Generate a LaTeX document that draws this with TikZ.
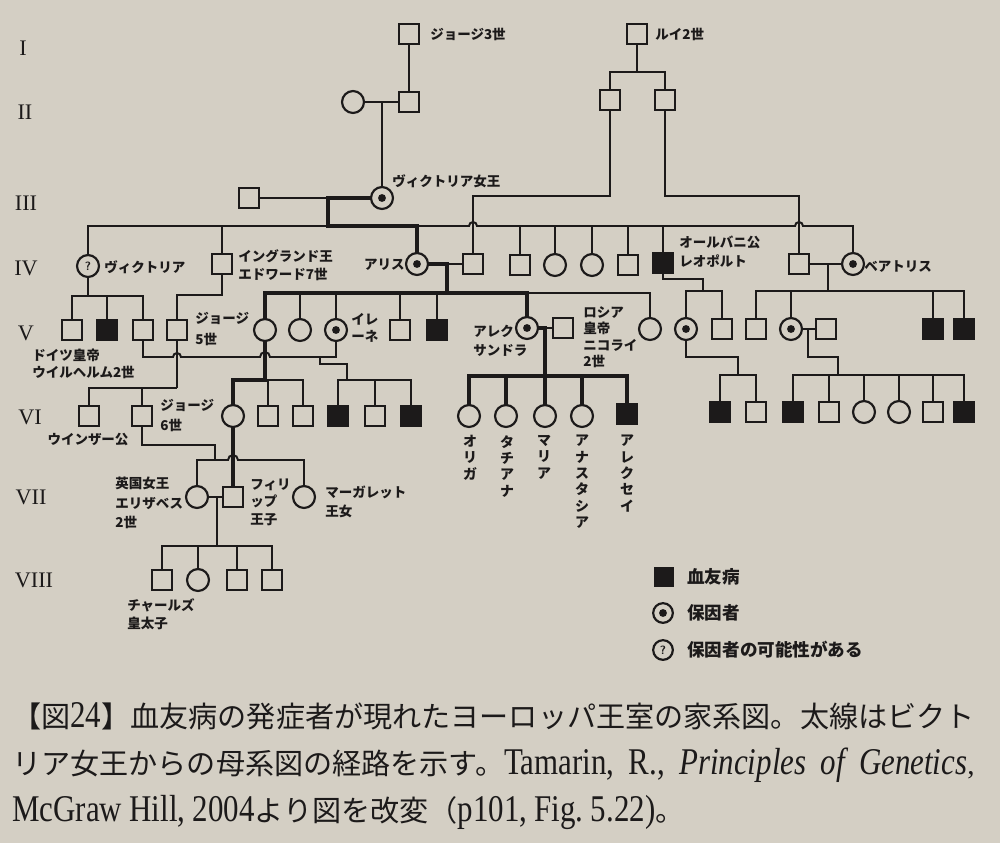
\documentclass[tikz,border=0pt]{standalone}
\usepackage{fontspec}
\setmainfont{Liberation Serif}
\newfontfamily\jp{Noto Sans CJK JP}
\usetikzlibrary{calc}
\definecolor{paper}{RGB}{212,207,196}
\definecolor{ink}{RGB}{28,26,26}
\pgfdeclarelayer{paperl}
\pgfdeclarelayer{lines}
\pgfsetlayers{paperl,lines,main}
\newcommand\lf[1]{\jp\bfseries\fontsize{9.6}{#1}\selectfont}
\newcommand\tl[1]{\scalebox{1}[1.22]{\rmfamily\fontsize{22}{24}\selectfont #1}}
\tikzset{
  ln/.style={draw=ink, line width=1.4pt, line join=miter},
  thk/.style={draw=ink, line width=3.5pt, line join=miter, line cap=rect},
  sym/.style={draw=ink, line width=1.55pt, fill=paper, inner sep=0pt, outer sep=0pt},
  sq/.style={sym, rectangle, minimum size=14.4pt},
  ci/.style={sym, circle, minimum size=15.6pt},
  aff/.style={sq, fill=ink},
  car/.style={ci, path picture={\fill[ink] (path picture bounding box.center) circle (2.8pt);}},
  posc/.style={ci, text=ink, font=\sffamily\bfseries\fontsize{8.5}{8.5}\selectfont},
  lbl/.style={inner sep=0pt, anchor=west, align=left, text=ink, font={\lf{13.5}}},
  vt/.style={inner sep=0pt, anchor=north, align=center, text=ink, font={\jp\bfseries\fontsize{9.9}{11.6}\selectfont}},
  gen/.style={inner sep=0pt, text=ink, font=\fontsize{15.8}{16}\selectfont},
  captxt/.style={inner sep=0pt, anchor=west, text=ink, font=\fontsize{20.7}{24}\selectfont},
  lgt/.style={inner sep=0pt, anchor=west, text=ink, font=\jp\bfseries\fontsize{12.5}{14}\selectfont},
}
\begin{document}
\begin{tikzpicture}[x=0.025cm, y=-0.025cm]
\useasboundingbox (0,0) rectangle (1000,843);
\begin{pgfonlayer}{paperl}
\fill[paper] (0,0) rectangle (1000,843);
\end{pgfonlayer}

% generation labels
\node[gen] (gI) at (23,48) {I};
\node[gen] (gII) at (25,112) {II};
\node[gen] (gIII) at (26,203) {III};
\node[gen] (gIV) at (26,268) {IV};
\node[gen] (gV) at (26,333) {V};
\node[gen] (gVI) at (30,417) {VI};
\node[gen] (gVII) at (31,497) {VII};
\node[gen] (gVIII) at (34,580) {VIII};

% Gen I
\node[sq] (g3) at (409,34) {};
\node[sq] (l2) at (637,34) {};
% Gen II
\node[ci] (vmom) at (353,102) {};
\node[sq] (kent) at (409,102) {};
\node[sq] (ls1) at (610,100) {};
\node[sq] (ls2) at (665,100) {};
% Gen III
\node[sq] (albert) at (249,198) {};
\node[car] (qv) at (382,198) {};
% Gen IV
\node[posc] (vic) at (88,266) {?};
\node[sq] (ed7) at (222,264) {};
\node[car] (alice) at (417,264) {};
\node[sq] (hesse) at (473,264) {};
\node[sq] (c4a) at (520,265) {};
\node[ci] (c4b) at (555,265) {};
\node[ci] (c4c) at (592,265) {};
\node[sq] (c4d) at (628,265) {};
\node[aff] (leo) at (663,263) {};
\node[sq] (bhus) at (799,264) {};
\node[car] (bea) at (853,264) {};
% Gen V
\node[sq] (wil) at (72,330) {};
\node[aff] (v2) at (107,330) {};
\node[sq] (hein) at (143,330) {};
\node[sq] (g5) at (177,330) {};
\node[ci] (vh) at (265,330) {};
\node[ci] (ella) at (300,330) {};
\node[car] (irene) at (336,330) {};
\node[sq] (ernst) at (400,330) {};
\node[aff] (fritz) at (437,330) {};
\node[car] (alix) at (527,328) {};
\node[sq] (nic) at (563,328) {};
\node[ci] (c5x) at (650,329) {};
\node[car] (ala) at (686,329) {};
\node[sq] (chb) at (722,329) {};
\node[sq] (alexb) at (756,329) {};
\node[car] (ena) at (791,329) {};
\node[sq] (alf) at (826,329) {};
\node[aff] (leob) at (933,329) {};
\node[aff] (maub) at (964,329) {};
% Gen VI
\node[sq] (windsor) at (89,416) {};
\node[sq] (g6) at (142,416) {};
\node[ci] (aliceb) at (233,416) {};
\node[sq] (c6a) at (268,416) {};
\node[sq] (c6b) at (303,416) {};
\node[aff] (c6c) at (338,416) {};
\node[sq] (c6d) at (375,416) {};
\node[aff] (c6e) at (411,416) {};
\node[ci] (olga) at (469,416) {};
\node[ci] (tat) at (506,416) {};
\node[ci] (mar) at (545,416) {};
\node[ci] (ana) at (582,416) {};
\node[aff] (alexei) at (627,414) {};
\node[aff] (rup) at (720,412) {};
\node[sq] (c6f) at (756,412) {};
\node[aff] (c6g) at (793,412) {};
\node[sq] (c6h) at (829,412) {};
\node[ci] (c6i) at (864,412) {};
\node[ci] (c6j) at (899,412) {};
\node[sq] (c6k) at (933,412) {};
\node[aff] (c6l) at (964,412) {};
% Gen VII
\node[ci] (eliz) at (197,497) {};
\node[sq] (phil) at (233,497) {};
\node[ci] (marg) at (304,497) {};
% Gen VIII
\node[sq] (charles) at (162,580) {};
\node[ci] (anne) at (198,580) {};
\node[sq] (andrew) at (237,580) {};
\node[sq] (edw) at (272,580) {};

% labels
\node[lbl] (tg3) at (430,34) {ジョージ3世};
\node[lbl] (tl2) at (655,34) {ルイ2世};
\node[lbl] (tqv) at (392,181) {ヴィクトリア女王};
\node[lbl] (tvic) at (104,267) {ヴィクトリア};
\node[lbl, font={\lf{12.8}}] (ted7) at (238,265) {イングランド王\\エドワード7世};
\node[lbl, anchor=east] (tal) at (405,265) {アリス};
\node[lbl, font={\lf{13.4}}] (tleo) at (679,252) {オールバニ公\\レオポルト};
\node[lbl] (tbea) at (864,267) {ベアトリス};
\node[lbl, font={\lf{11.8}}] (twil) at (32,364) {ドイツ皇帝\\ウイルヘルム2世};
\node[lbl, font={\lf{14.4}}] (tg5) at (195,329) {ジョージ\\5世};
\node[lbl, font={\lf{12.2}}] (tir) at (351,328) {イレ\\ーネ};
\node[lbl] (talix) at (473,341) {アレク\\サンドラ};
\node[lbl, font={\lf{11.7}}] (tnic) at (583,337) {ロシア\\皇帝\\ニコライ\\2世};
\node[lbl, anchor=center] (twin) at (88,440) {ウインザー公};
\node[lbl, font={\lf{14.2}}] (tg6) at (160,416) {ジョージ\\6世};
\node[vt] (tolga) at (470,435) {オ\\リ\\ガ};
\node[vt] (ttat) at (507,435) {タ\\チ\\ア\\ナ};
\node[vt] (tmar) at (544,435) {マ\\リ\\ア};
\node[vt] (tana) at (582,435) {ア\\ナ\\ス\\タ\\シ\\ア};
\node[vt] (talex) at (627,435) {ア\\レ\\ク\\セ\\イ};
\node[lbl, font={\lf{13.8}}] (teliz) at (115,503) {英国女王\\エリザベス\\2世};
\node[lbl, font={\lf{12.4}}] (tphil) at (250,502) {フィリ\\ップ\\王子};
\node[lbl] (tmarg) at (325,502) {マーガレット\\王女};
\node[lbl, font={\lf{12.8}}] (tch) at (127,614) {チャールズ\\皇太子};

% legend
\node[aff, minimum size=13pt] (lgA) at (664,577) {};
\node[car, minimum size=14pt] (lgB) at (663,613) {};
\node[posc, minimum size=14pt] (lgC) at (663,650) {?};
\node[lgt] (lgAt) at (687,577) {血友病};
\node[lgt] (lgBt) at (687,613) {保因者};
\node[lgt] (lgCt) at (687,650) {保因者の可能性がある};

% caption
\node[captxt] (cap1) at (12,716) {{\jp 【図}\tl{24}{\jp 】血友病の発症者が現れたヨーロッパ王室の家系図。太線はビクト}};
\node[captxt] (cap2) at (12,765) {\makebox[24.05cm][s]{{\jp リア女王からの母系図の経路を示す。}\tl{Tamarin,} \tl{R.,} \tl{\itshape Principles} \tl{\itshape of} \tl{\itshape Genetics},}};
\node[captxt] (cap3) at (12,812) {\tl{McGraw} \tl{Hill,} \tl{2004}{\jp より図を改変（}\tl{p101,} \tl{Fig.} \tl{5.22)}{\jp 。}};

% junction coordinates
\coordinate (m2) at (382,102);
\coordinate (l2s) at (637,72);
\coordinate (s1c) at (610,196);
\coordinate (m3) at (328,198);
\coordinate (s3) at (328,226);
\coordinate (m4a) at (447,264);
\coordinate (s4a) at (447,293);
\coordinate (s4v) at (88,296);
\coordinate (e7a) at (222,295);
\coordinate (hiL) at (143,357);
\coordinate (hiR) at (336,357);
\coordinate (hm1) at (320,357);
\coordinate (hm2) at (320,364);
\coordinate (hm3) at (347,364);
\coordinate (s5i) at (347,380);
\coordinate (s5g) at (177,388);
\coordinate (s5h) at (265,380);
\coordinate (g6a) at (142,445);
\coordinate (g6b) at (215,445);
\coordinate (s6g) at (215,460);
\coordinate (m7) at (217,497);
\coordinate (s7) at (217,546);
\coordinate (m5) at (545,328);
\coordinate (s5t) at (545,376);
\coordinate (lp1) at (663,279);
\coordinate (lp2) at (703,279);
\coordinate (s4l) at (703,291);
\coordinate (m4b) at (828,264);
\coordinate (s4b) at (828,291);
\coordinate (aa1) at (686,357);
\coordinate (aa2) at (738,357);
\coordinate (s5a) at (738,375);
\coordinate (me) at (808,329);
\coordinate (me1) at (808,357);
\coordinate (me2) at (838,357);
\coordinate (s5e) at (838,375);

\begin{pgfonlayer}{lines}
% I - II - III
\draw[ln] (g3) -- (kent);
\draw[ln] (vmom) -- (kent);
\draw[ln] (m2) -- (qv);
\draw[ln] (l2) -- (l2s);
\draw[ln] (ls1.north) |- (l2s) -| (ls2.north);
\draw[ln] (ls1.south) -- (s1c) -| (hesse.north);
\draw[ln] (ls2.south) |- (bhus.north |- s1c) -- (bhus.north);
% Victoria & Albert
\draw[ln] (albert) -- (m3);
\draw[thk] (qv.west) -- (m3) -- (s3) -| (alice.north);
\draw[ln] (vic.north) |- (s3);
\draw[ln] (alice.north |- s3) -- ($(hesse.north |- s3)+(-4,0)$) arc[start angle=180,end angle=0,radius=2.84pt]
  -- ($(bhus.north |- s3)+(-4,0)$) arc[start angle=180,end angle=0,radius=2.84pt] -| (bea.north);
\foreach \n in {ed7,c4a,c4b,c4c,c4d,leo} \draw[ln] (\n.north) -- (\n.north |- s3);
% Alice & Hesse
\draw[thk] (alice.east) -- (m4a) -- (s4a);
\draw[ln] (m4a) -- (hesse.west);
\draw[thk] (vh.north) |- (s4a) -| (alix.north);
\draw[ln] (alix.north |- s4a) -| (c5x.north);
\foreach \n in {ella,irene,ernst,fritz} \draw[ln] (\n.north) -- (\n.north |- s4a);
% Victoria (?)
\draw[ln] (vic.south) -- (s4v);
\draw[ln] (wil.north) |- (s4v) -| (hein.north);
\draw[ln] (v2.north) -- (v2.north |- s4v);
% Edward VII
\draw[ln] (ed7.south) -- (e7a) -| (g5.north);
% Heinrich & Irene
\draw[ln] (hein.south) -- (hiL) -- ($(g5.south |- hiL)+(-4,0)$) arc[start angle=180,end angle=0,radius=2.84pt]
  -- ($(vh.south |- hiL)+(-5,0)$) arc[start angle=180,end angle=0,radius=3.55pt] -- (hiR) -- (irene.south);
\draw[ln] (hm1) -- (hm2) -- (hm3) -- (s5i);
\draw[ln] (c6c.north) |- (s5i) -| (c6e.north);
\draw[ln] (c6d.north) -- (c6d.north |- s5i);
% George V
\draw[ln] (g5.south) -- (s5g);
\draw[ln] (windsor.north) |- (s5g);
\draw[ln] (g6.north) -- (g6.north |- s5g);
% Victoria of Hesse
\draw[thk] (vh.south) -- (s5h) -| (aliceb.north);
\draw[ln] (s5h) -| (c6b.north);
\draw[ln] (c6a.north) -- (c6a.north |- s5h);
\draw[thk] (aliceb) -- (phil);
% George VI
\draw[ln] (g6.south) -- (g6a) -- (g6b) -- (s6g);
\draw[ln] (eliz.north) |- (s6g) -- ($(phil.north |- s6g)+(-5,0)$) arc[start angle=180,end angle=0,radius=3.55pt] -| (marg.north);
% Elizabeth & Philip
\draw[ln] (eliz) -- (phil);
\draw[ln] (m7) -- (s7);
\draw[ln] (charles.north) |- (s7) -| (edw.north);
\foreach \n in {anne,andrew} \draw[ln] (\n.north) -- (\n.north |- s7);
% Alexandra & Nicholas
\draw[thk] (alix.east) -- (m5) -- (s5t);
\draw[ln] (m5) -- (nic.west);
\draw[thk] (olga.north) |- (s5t) -| (alexei.north);
\foreach \n in {tat,mar,ana} \draw[thk] (\n.north) -- (\n.north |- s5t);
% Leopold
\draw[ln] (leo.south) -- (lp1) -- (lp2) -- (s4l);
\draw[ln] (ala.north) |- (s4l) -| (chb.north);
% Beatrice
\draw[ln] (bhus) -- (bea);
\draw[ln] (m4b) -- (s4b);
\draw[ln] (alexb.north) |- (s4b) -| (maub.north);
\foreach \n in {ena,leob} \draw[ln] (\n.north) -- (\n.north |- s4b);
% Alice of Albany
\draw[ln] (ala.south) -- (aa1) -- (aa2) -- (s5a);
\draw[ln] (rup.north) |- (s5a) -| (c6f.north);
% Ena & Alfonso
\draw[ln] (ena) -- (alf);
\draw[ln] (me) -- (me1) -- (me2) -- (s5e);
\draw[ln] (c6g.north) |- (s5e) -| (c6l.north);
\foreach \n in {c6h,c6i,c6j,c6k} \draw[ln] (\n.north) -- (\n.north |- s5e);
\end{pgfonlayer}
\end{tikzpicture}
\end{document}
